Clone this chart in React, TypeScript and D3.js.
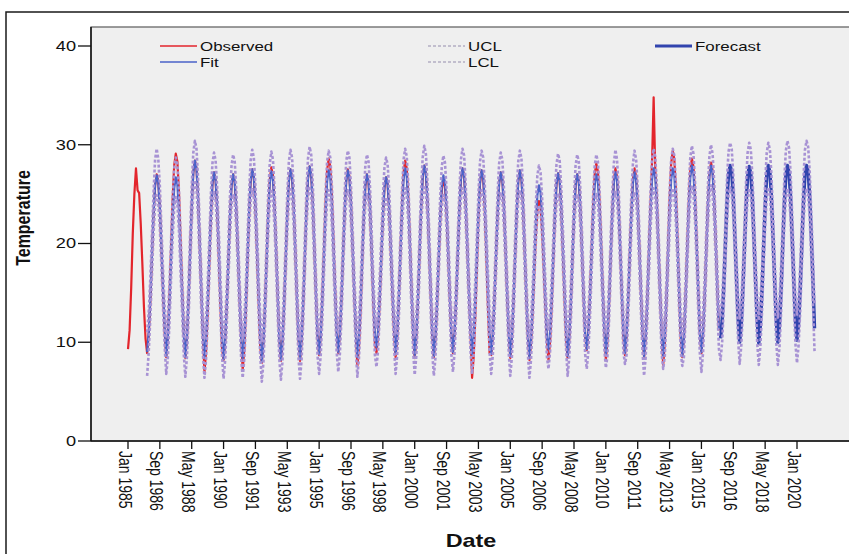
import React from 'react';
import * as d3 from 'd3';

// monthly temperature, one row per year, Jan..Dec
const observed1985to2015: number[][] = [
  [9.3, 11.2, 15.5, 21.0, 25.0, 27.6, 25.4, 25.1, 22.0, 18.0, 13.6, 10.4],
  [8.9, 10.7, 14.1, 18.5, 22.8, 25.9, 27.0, 26.3, 23.6, 19.4, 15.1, 11.1],
  [8.5, 10.6, 14.5, 19.4, 24.4, 27.9, 29.1, 28.3, 25.2, 20.4, 15.5, 11.0],
  [8.4, 10.4, 14.2, 19.0, 23.8, 27.2, 28.4, 27.6, 24.6, 20.0, 15.2, 10.8],
  [7.0, 9.0, 12.9, 17.7, 22.6, 26.0, 27.2, 26.4, 23.4, 18.7, 13.9, 9.4],
  [8.2, 10.1, 13.7, 18.2, 22.7, 25.9, 27.0, 26.2, 23.4, 19.1, 14.6, 10.5],
  [7.2, 9.2, 13.1, 18.0, 22.8, 26.3, 27.5, 26.7, 23.6, 19.0, 14.1, 9.6],
  [7.9, 9.9, 13.6, 18.4, 23.1, 26.5, 27.7, 26.9, 23.9, 19.4, 14.6, 10.3],
  [8.1, 10.0, 13.7, 18.4, 23.0, 26.3, 27.5, 26.7, 23.8, 19.4, 14.7, 10.4],
  [8.1, 10.1, 13.8, 18.5, 23.3, 26.6, 27.8, 27.0, 24.1, 19.5, 14.8, 10.6],
  [8.7, 10.7, 14.5, 19.2, 24.0, 27.4, 28.6, 27.8, 24.8, 20.2, 15.5, 11.1],
  [8.9, 10.8, 14.3, 18.8, 23.2, 26.4, 27.5, 26.8, 24.0, 19.7, 15.2, 11.1],
  [7.6, 9.5, 13.2, 17.9, 22.5, 25.8, 27.0, 26.2, 23.3, 18.9, 14.2, 9.9],
  [8.9, 10.7, 14.1, 18.3, 22.6, 25.6, 26.7, 26.0, 23.3, 19.2, 15.0, 11.0],
  [8.5, 10.5, 14.3, 19.0, 23.8, 27.2, 28.4, 27.6, 24.6, 20.0, 15.3, 10.9],
  [8.4, 10.4, 14.1, 18.7, 23.4, 26.7, 27.9, 27.1, 24.2, 19.7, 15.0, 10.7],
  [8.5, 10.3, 13.7, 18.0, 22.4, 25.4, 26.5, 25.8, 23.1, 19.0, 14.6, 10.7],
  [8.9, 10.8, 14.3, 18.8, 23.3, 26.5, 27.6, 26.9, 24.0, 19.7, 15.3, 11.1],
  [6.4, 8.5, 12.5, 17.5, 22.6, 26.1, 27.4, 26.6, 23.4, 18.6, 13.5, 8.9],
  [8.7, 10.6, 14.1, 18.5, 23.0, 26.1, 27.2, 26.5, 23.7, 19.4, 15.0, 10.9],
  [8.4, 10.3, 13.9, 18.5, 23.0, 26.3, 27.4, 26.6, 23.8, 19.4, 14.9, 10.7],
  [8.2, 9.8, 12.9, 16.7, 20.6, 23.3, 24.3, 23.7, 21.2, 17.5, 13.7, 10.1],
  [8.2, 10.1, 13.7, 18.2, 22.8, 26.0, 27.1, 26.3, 23.5, 19.2, 14.6, 10.5],
  [8.4, 10.3, 13.8, 18.3, 22.7, 25.9, 27.0, 26.3, 23.5, 19.2, 14.7, 10.6],
  [9.2, 11.1, 14.7, 19.2, 23.8, 27.0, 28.1, 27.3, 24.5, 20.2, 15.6, 11.5],
  [8.2, 10.1, 13.8, 18.5, 23.1, 26.4, 27.6, 26.8, 23.9, 19.5, 14.8, 10.5],
  [8.7, 10.6, 14.2, 18.7, 23.3, 26.5, 27.6, 26.8, 24.0, 19.7, 15.1, 11.0],
  [8.5, 10.5, 14.3, 19.0, 23.8, 28.3, 34.8, 27.6, 24.4, 19.9, 15.2, 10.9],
  [7.7, 9.9, 14.0, 19.2, 24.4, 28.1, 29.4, 28.5, 25.3, 20.3, 15.1, 10.3],
  [8.5, 10.5, 14.3, 19.2, 24.0, 27.4, 28.6, 27.8, 24.8, 20.2, 15.3, 10.9],
  [8.9, 10.8, 14.5, 19.1, 23.8, 27.0, 28.2, 27.4, 24.5, 20.1, 15.5, 11.2],
];

const fit1986to2015: number[][] = [
  [9.0, 11.0, 14.4, 18.7, 22.9, 25.9, 26.9, 26.2, 23.6, 19.6, 15.4, 11.6],
  [8.6, 10.4, 13.8, 18.2, 22.5, 25.6, 26.7, 26.0, 23.3, 19.1, 14.8, 10.8],
  [8.5, 10.5, 14.3, 19.0, 23.8, 27.2, 28.4, 27.6, 24.6, 20.0, 15.3, 10.9],
  [8.4, 10.3, 13.9, 18.4, 22.9, 26.1, 27.2, 26.4, 23.6, 19.3, 14.8, 10.7],
  [8.3, 10.2, 13.7, 18.2, 22.7, 25.9, 27.0, 26.3, 23.4, 19.1, 14.7, 10.5],
  [8.4, 10.3, 13.9, 18.5, 23.1, 26.4, 27.5, 26.7, 23.9, 19.5, 14.9, 10.7],
  [8.0, 9.9, 13.6, 18.2, 22.9, 26.1, 27.3, 26.5, 23.6, 19.2, 14.6, 10.3],
  [8.2, 10.1, 13.8, 18.4, 23.1, 26.3, 27.5, 26.7, 23.8, 19.4, 14.8, 10.5],
  [8.3, 10.3, 14.0, 18.6, 23.3, 26.6, 27.8, 27.0, 24.1, 19.6, 14.9, 10.6],
  [8.8, 10.7, 14.2, 18.7, 23.1, 26.3, 27.4, 26.7, 23.9, 19.6, 15.1, 11.0],
  [9.0, 10.8, 14.3, 18.8, 23.2, 26.3, 27.4, 26.7, 23.9, 19.7, 15.3, 11.2],
  [8.5, 10.4, 13.9, 18.3, 22.7, 25.9, 27.0, 26.3, 23.5, 19.2, 14.8, 10.7],
  [9.5, 11.2, 14.5, 18.6, 22.7, 25.7, 26.7, 26.0, 23.4, 19.5, 15.3, 11.6],
  [8.8, 10.7, 14.3, 18.8, 23.3, 26.5, 27.6, 26.8, 24.0, 19.7, 15.2, 11.1],
  [8.7, 10.6, 14.3, 18.9, 23.5, 26.7, 27.9, 27.1, 24.3, 19.8, 15.2, 11.0],
  [8.6, 10.4, 13.9, 18.3, 22.7, 25.8, 26.9, 26.2, 23.4, 19.2, 14.8, 10.8],
  [9.0, 10.9, 14.4, 18.9, 23.3, 26.5, 27.6, 26.9, 24.1, 19.8, 15.3, 11.2],
  [8.8, 10.7, 14.2, 18.7, 23.1, 26.3, 27.4, 26.7, 23.9, 19.6, 15.1, 11.0],
  [8.8, 10.6, 14.1, 18.6, 23.0, 26.1, 27.2, 26.5, 23.7, 19.5, 15.1, 11.0],
  [8.6, 10.5, 14.1, 18.6, 23.1, 26.3, 27.4, 26.6, 23.8, 19.5, 15.0, 10.9],
  [8.4, 10.2, 13.5, 17.7, 21.9, 24.9, 25.9, 25.2, 22.6, 18.6, 14.4, 10.5],
  [9.3, 11.1, 14.5, 18.7, 23.0, 26.0, 27.1, 26.4, 23.7, 19.6, 15.4, 11.4],
  [8.6, 10.4, 13.9, 18.4, 22.8, 25.9, 27.0, 26.3, 23.5, 19.3, 14.9, 10.8],
  [9.3, 11.1, 14.4, 18.7, 22.9, 25.9, 27.0, 26.3, 23.6, 19.6, 15.3, 11.4],
  [8.8, 10.6, 14.1, 18.6, 23.0, 26.1, 27.2, 26.5, 23.7, 19.5, 15.1, 11.0],
  [8.9, 10.7, 14.2, 18.6, 23.0, 26.1, 27.2, 26.5, 23.7, 19.5, 15.1, 11.1],
  [8.6, 10.5, 14.1, 18.7, 23.2, 26.5, 27.6, 26.8, 24.0, 19.6, 15.1, 10.9],
  [8.6, 10.6, 14.2, 18.8, 23.3, 26.5, 27.6, 26.9, 24.0, 19.7, 15.2, 11.0],
  [8.6, 10.5, 14.2, 18.8, 23.5, 26.7, 27.9, 27.1, 24.2, 19.8, 15.2, 10.9],
  [9.0, 10.9, 14.5, 19.0, 23.6, 26.8, 27.9, 27.1, 24.3, 20.0, 15.4, 11.3],
];

const forecast2016to2020: number[][] = [
  [10.4, 12.2, 15.5, 19.8, 24.0, 27.0, 27.9, 27.3, 24.7, 20.7, 16.5, 12.5],
  [10.0, 11.8, 15.2, 19.5, 23.8, 26.8, 27.8, 27.1, 24.5, 20.4, 16.2, 12.2],
  [9.9, 11.7, 15.1, 19.5, 23.8, 26.9, 27.9, 27.2, 24.5, 20.4, 16.1, 12.1],
  [10.0, 11.8, 15.2, 19.6, 23.9, 26.9, 27.9, 27.2, 24.6, 20.5, 16.2, 12.2],
  [10.2, 12.0, 15.3, 19.7, 24.0, 27.0, 27.9, 27.3, 24.7, 20.6, 16.3, 11.4],
];

const ucl1986to2020: number[][] = [
  [11.0, 13.0, 16.4, 20.7, 25.0, 28.5, 29.6, 28.6, 25.8, 21.6, 17.4, 13.6],
  [10.6, 12.4, 15.8, 20.2, 24.5, 27.6, 28.7, 28.0, 25.3, 21.1, 16.8, 12.8],
  [10.5, 12.5, 16.3, 21.0, 25.8, 29.2, 30.4, 29.6, 26.6, 22.0, 17.3, 12.9],
  [10.4, 12.3, 15.9, 20.4, 24.9, 28.1, 29.2, 28.4, 25.6, 21.3, 16.8, 12.7],
  [10.3, 12.2, 15.7, 20.2, 24.7, 27.9, 29.0, 28.3, 25.4, 21.1, 16.7, 12.5],
  [10.4, 12.3, 15.9, 20.5, 25.1, 28.4, 29.5, 28.7, 25.9, 21.5, 16.9, 12.7],
  [10.0, 11.9, 15.6, 20.2, 24.9, 28.1, 29.3, 28.5, 25.6, 21.2, 16.6, 12.3],
  [10.2, 12.1, 15.8, 20.4, 25.1, 28.3, 29.5, 28.7, 25.8, 21.4, 16.8, 12.5],
  [10.3, 12.3, 16.0, 20.6, 25.3, 28.6, 29.8, 29.0, 26.1, 21.6, 16.9, 12.6],
  [10.8, 12.7, 16.2, 20.7, 25.1, 28.3, 29.4, 28.7, 25.9, 21.6, 17.1, 13.0],
  [11.0, 12.8, 16.3, 20.8, 25.2, 28.3, 29.4, 28.7, 25.9, 21.7, 17.3, 13.2],
  [10.5, 12.4, 15.9, 20.3, 24.7, 27.9, 29.0, 28.3, 25.5, 21.2, 16.8, 12.7],
  [11.5, 13.2, 16.5, 20.6, 24.7, 27.7, 28.7, 28.0, 25.4, 21.5, 17.3, 13.6],
  [10.8, 12.7, 16.3, 20.8, 25.3, 28.5, 29.6, 28.8, 26.0, 21.7, 17.2, 13.1],
  [10.7, 12.6, 16.3, 20.9, 25.5, 28.7, 29.9, 29.1, 26.3, 21.8, 17.2, 13.0],
  [10.6, 12.4, 15.9, 20.3, 24.7, 27.8, 28.9, 28.2, 25.4, 21.2, 16.8, 12.8],
  [11.0, 12.9, 16.4, 20.9, 25.3, 28.5, 29.6, 28.9, 26.1, 21.8, 17.3, 13.2],
  [10.8, 12.7, 16.2, 20.7, 25.1, 28.3, 29.4, 28.7, 25.9, 21.6, 17.1, 13.0],
  [10.8, 12.6, 16.1, 20.6, 25.0, 28.1, 29.2, 28.5, 25.7, 21.5, 17.1, 13.0],
  [10.6, 12.5, 16.1, 20.6, 25.1, 28.3, 29.4, 28.6, 25.8, 21.5, 17.0, 12.9],
  [10.4, 12.2, 15.5, 19.7, 23.9, 26.9, 27.9, 27.2, 24.6, 20.6, 16.4, 12.5],
  [11.3, 13.1, 16.5, 20.7, 25.0, 28.0, 29.1, 28.4, 25.7, 21.6, 17.4, 13.4],
  [10.6, 12.4, 15.9, 20.4, 24.8, 27.9, 29.0, 28.3, 25.5, 21.3, 16.9, 12.8],
  [11.3, 13.1, 16.4, 20.7, 24.9, 27.9, 29.0, 28.3, 25.6, 21.6, 17.3, 13.4],
  [10.8, 12.6, 16.1, 20.6, 25.0, 28.1, 29.5, 28.5, 25.7, 21.5, 17.1, 13.0],
  [10.9, 12.7, 16.2, 20.6, 25.0, 28.1, 29.4, 28.5, 25.7, 21.5, 17.1, 13.1],
  [10.6, 12.5, 16.1, 20.7, 25.2, 28.5, 29.6, 28.8, 26.0, 21.6, 17.1, 12.9],
  [10.6, 12.6, 16.2, 20.8, 25.3, 28.5, 29.6, 28.9, 26.0, 21.7, 17.2, 13.0],
  [10.6, 12.5, 16.2, 20.8, 25.5, 28.7, 29.9, 29.1, 26.2, 21.8, 17.2, 12.9],
  [11.0, 12.9, 16.5, 21.0, 25.6, 28.8, 30.0, 29.1, 26.3, 22.0, 17.4, 13.3],
  [12.7, 14.5, 17.8, 22.1, 26.3, 29.3, 30.2, 29.6, 27.0, 23.0, 18.8, 14.8],
  [12.4, 14.2, 17.6, 21.9, 26.2, 29.2, 30.2, 29.5, 26.9, 22.8, 18.6, 14.6],
  [12.2, 14.0, 17.4, 21.8, 26.1, 29.2, 30.2, 29.5, 26.8, 22.7, 18.4, 14.4],
  [12.5, 14.3, 17.7, 22.1, 26.4, 29.4, 30.4, 29.7, 27.1, 23.0, 18.7, 14.7],
  [12.7, 14.5, 17.8, 22.2, 26.5, 29.5, 30.4, 29.8, 27.2, 23.1, 18.8, 13.9],
];

const lcl1986to2020: number[][] = [
  [6.6, 9.0, 12.4, 16.7, 20.9, 23.9, 24.9, 24.2, 21.6, 17.6, 13.4, 9.6],
  [6.8, 8.4, 11.8, 16.2, 20.5, 23.6, 24.7, 24.0, 21.3, 17.1, 12.8, 8.8],
  [6.5, 8.5, 12.3, 17.0, 21.8, 25.2, 26.4, 25.6, 22.6, 18.0, 13.3, 8.9],
  [6.4, 8.3, 11.9, 16.4, 20.9, 24.1, 25.2, 24.4, 21.6, 17.3, 12.8, 8.7],
  [6.3, 8.2, 11.7, 16.2, 20.7, 23.9, 25.0, 24.3, 21.4, 17.1, 12.7, 8.5],
  [6.4, 8.3, 11.9, 16.5, 21.1, 24.4, 25.5, 24.7, 21.9, 17.5, 12.9, 8.7],
  [6.0, 7.9, 11.6, 16.2, 20.9, 24.1, 25.3, 24.5, 21.6, 17.2, 12.6, 8.3],
  [6.2, 8.1, 11.8, 16.4, 21.1, 24.3, 25.5, 24.7, 21.8, 17.4, 12.8, 8.5],
  [6.3, 8.3, 12.0, 16.6, 21.3, 24.6, 25.8, 25.0, 22.1, 17.6, 12.9, 8.6],
  [6.8, 8.7, 12.2, 16.7, 21.1, 24.3, 25.4, 24.7, 21.9, 17.6, 13.1, 9.0],
  [7.0, 8.8, 12.3, 16.8, 21.2, 24.3, 25.4, 24.7, 21.9, 17.7, 13.3, 9.2],
  [6.5, 8.4, 11.9, 16.3, 20.7, 23.9, 25.0, 24.3, 21.5, 17.2, 12.8, 8.7],
  [7.5, 9.2, 12.5, 16.6, 20.7, 23.7, 24.7, 24.0, 21.4, 17.5, 13.3, 9.6],
  [6.8, 8.7, 12.3, 16.8, 21.3, 24.5, 25.6, 24.8, 22.0, 17.7, 13.2, 9.1],
  [6.7, 8.6, 12.3, 16.9, 21.5, 24.7, 25.9, 25.1, 22.3, 17.8, 13.2, 9.0],
  [6.6, 8.4, 11.9, 16.3, 20.7, 23.8, 24.9, 24.2, 21.4, 17.2, 12.8, 8.8],
  [7.0, 8.9, 12.4, 16.9, 21.3, 24.5, 25.6, 24.9, 22.1, 17.8, 13.3, 9.2],
  [6.8, 8.7, 12.2, 16.7, 21.1, 24.3, 25.4, 24.7, 21.9, 17.6, 13.1, 9.0],
  [6.8, 8.6, 12.1, 16.6, 21.0, 24.1, 25.2, 24.5, 21.7, 17.5, 13.1, 9.0],
  [6.6, 8.5, 12.1, 16.6, 21.1, 24.3, 25.4, 24.6, 21.8, 17.5, 13.0, 8.9],
  [6.4, 8.2, 11.5, 15.7, 19.9, 22.9, 23.9, 23.2, 20.6, 16.6, 12.4, 8.5],
  [7.3, 9.1, 12.5, 16.7, 21.0, 24.0, 25.1, 24.4, 21.7, 17.6, 13.4, 9.4],
  [6.6, 8.4, 11.9, 16.4, 20.8, 23.9, 25.0, 24.3, 21.5, 17.3, 12.9, 8.8],
  [7.3, 9.1, 12.4, 16.7, 20.9, 23.9, 25.0, 24.3, 21.6, 17.6, 13.3, 9.4],
  [7.4, 8.6, 12.1, 16.6, 21.0, 24.1, 25.2, 24.5, 21.7, 17.5, 13.1, 9.0],
  [7.8, 8.7, 12.2, 16.6, 21.0, 24.1, 25.2, 24.5, 21.7, 17.5, 13.1, 9.1],
  [6.6, 8.5, 12.1, 16.7, 21.2, 24.5, 25.6, 24.8, 22.0, 17.6, 13.1, 8.9],
  [7.3, 8.6, 12.2, 16.8, 21.3, 24.5, 25.6, 24.9, 22.0, 17.7, 13.2, 9.0],
  [7.6, 8.5, 12.2, 16.8, 21.5, 24.7, 25.9, 25.1, 22.2, 17.8, 13.2, 8.9],
  [7.0, 8.9, 12.5, 17.0, 21.6, 24.8, 25.9, 25.1, 22.3, 18.0, 13.4, 9.3],
  [8.2, 10.0, 13.3, 17.6, 21.8, 24.8, 25.7, 25.1, 22.5, 18.5, 14.3, 10.3],
  [7.8, 9.6, 13.0, 17.3, 21.6, 24.6, 25.6, 24.9, 22.3, 18.2, 14.0, 10.0],
  [7.7, 9.5, 12.9, 17.3, 21.6, 24.7, 25.7, 25.0, 22.3, 18.2, 13.9, 9.9],
  [7.7, 9.5, 12.9, 17.3, 21.6, 24.6, 25.6, 24.9, 22.3, 18.2, 13.9, 9.9],
  [7.9, 9.7, 13.0, 17.4, 21.7, 24.7, 25.6, 25.0, 22.4, 18.3, 14.0, 9.1],
];

const tickLabels = [
  'Jan 1985', 'Sep 1986', 'May 1988', 'Jan 1990', 'Sep 1991', 'May 1993',
  'Jan 1995', 'Sep 1996', 'May 1998', 'Jan 2000', 'Sep 2001', 'May 2003',
  'Jan 2005', 'Sep 2006', 'May 2008', 'Jan 2010', 'Sep 2011', 'May 2013',
  'Jan 2015', 'Sep 2016', 'May 2018', 'Jan 2020',
];
const yTicks = [0, 10, 20, 30, 40];

const monthNames = ['Jan', 'Feb', 'Mar', 'Apr', 'May', 'Jun', 'Jul', 'Aug', 'Sep', 'Oct', 'Nov', 'Dec'];

const RED = '#e3252c';
const BLUE = '#4a62c8';
const DARKBLUE = '#3144ae';
const LAVENDER = '#a893d4';
const FONT = "'Liberation Sans', Arial, sans-serif";
const SX = 1.3; // the reference is stretched sideways

type Pt = { m: number; v: number };

// rows of 12 months -> points with a month index counted from Jan 1985
const toPoints = (rows: number[][], startYear: number): Pt[] =>
  rows.flatMap((row, i) => row.map((v, j) => ({ m: (startYear - 1985 + i) * 12 + j, v })));

const labelMonth = (label: string) => {
  const [mon, yr] = label.split(' ');
  return (+yr - 1985) * 12 + monthNames.indexOf(mon);
};

export default function App() {
  const width = 849;
  const height = 554;
  const plotLeft = 91;
  const plotTop = 27;

  const x = d3.scaleLinear().domain([0, 420]).range([128, 797]);
  const y = d3.scaleLinear().domain([0, 40]).range([441, 46]);

  const line = d3.line<Pt>().x(d => x(d.m)).y(d => y(d.v));

  const observed = toPoints(observed1985to2015, 1985);
  const fit = toPoints(fit1986to2015, 1986);
  const forecast = toPoints(forecast2016to2020, 2016);
  const ucl = toPoints(ucl1986to2020, 1986);
  const lcl = toPoints(lcl1986to2020, 1986);

  const legend = [
    { label: 'Observed', color: RED, w: 1.6, dash: '', x: 160, y: 46 },
    { label: 'Fit', color: BLUE, w: 1.6, dash: '', x: 160, y: 62 },
    { label: 'UCL', color: '#b4aec4', w: 1.6, dash: '3,2', x: 428, y: 46 },
    { label: 'LCL', color: '#b4aec4', w: 1.6, dash: '3,2', x: 428, y: 62 },
    { label: 'Forecast', color: DARKBLUE, w: 3.2, dash: '', x: 655, y: 46 },
  ];

  return (
    <svg width={width} height={height} style={{ position: 'absolute', left: 0, top: 0, background: '#fff' }}
      fontFamily={FONT}>
      <defs>
        <clipPath id="plotClip">
          <rect x={plotLeft} y={plotTop} width={width - plotLeft} height={441 - plotTop} />
        </clipPath>
      </defs>

      <rect x={6} y={12} width={900} height={600} fill="#fff" stroke="#1a1a1a" strokeWidth={1.5} />
      <rect x={plotLeft} y={plotTop} width={900} height={441 - plotTop} fill="#efefef" stroke="#5a5a5a" strokeWidth={1.2} />

      <g clipPath="url(#plotClip)" fill="none" strokeLinejoin="round">
        <path d={line(observed) || ''} stroke={RED} strokeWidth={2.2} />
        <path d={line(fit) || ''} stroke={BLUE} strokeWidth={2.2} />
        <path d={line(forecast) || ''} stroke={DARKBLUE} strokeWidth={3.4} />
        <path d={line(ucl) || ''} stroke={LAVENDER} strokeWidth={2.6} strokeDasharray="3,2" />
        <path d={line(lcl) || ''} stroke={LAVENDER} strokeWidth={2.6} strokeDasharray="3,2" />
      </g>

      {legend.map(item => (
        <g key={item.label}>
          <line x1={item.x} x2={item.x + 37} y1={item.y} y2={item.y} stroke={item.color}
            strokeWidth={item.w} strokeDasharray={item.dash} />
          <text transform={`translate(${item.x + 40},${item.y}) scale(${SX},1)`} dy="0.35em"
            fontSize={13} fill="#111">{item.label}</text>
        </g>
      ))}

      {/* y axis */}
      <line x1={plotLeft} x2={plotLeft} y1={plotTop} y2={441} stroke="#111" strokeWidth={1.5} />
      {yTicks.map(t => (
        <g key={t}>
          <line x1={78} x2={plotLeft} y1={y(t)} y2={y(t)} stroke="#111" strokeWidth={1.3} />
          <text transform={`translate(76,${y(t)}) scale(${SX},1)`} dy="0.35em" textAnchor="end"
            fontSize={14} fill="#111">{t}</text>
        </g>
      ))}
      <text transform={`translate(23,218) scale(${SX},1) rotate(-90)`} dy="0.35em" textAnchor="middle"
        fontSize={16} fontWeight="bold" fill="#111">Temperature</text>

      {/* x axis */}
      <line x1={plotLeft} x2={width} y1={441} y2={441} stroke="#111" strokeWidth={1.5} />
      {tickLabels.map(lab => {
        const tx = x(labelMonth(lab));
        return (
          <g key={lab}>
            <line x1={tx} x2={tx} y1={441} y2={449} stroke="#111" strokeWidth={1.3} />
            <text transform={`translate(${tx - 3},451) scale(${SX},1) rotate(90)`} dy="0.35em"
              fontSize={14} fill="#111">{lab}</text>
          </g>
        );
      })}
      <text transform={`translate(471,547) scale(${SX},1)`} textAnchor="middle"
        fontSize={18} fontWeight="bold" fill="#111">Date</text>
    </svg>
  );
}
